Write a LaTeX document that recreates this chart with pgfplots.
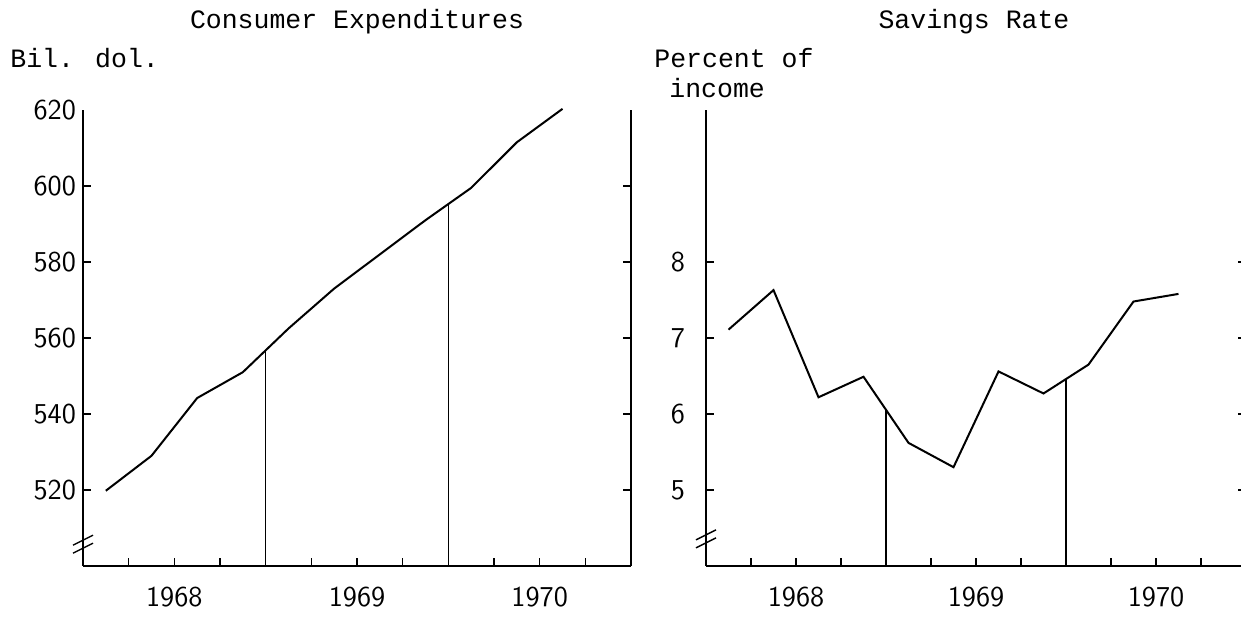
\documentclass[border=0pt]{standalone}
\usepackage{fontspec}
\usepackage{pgfplots}
\pgfplotsset{compat=1.18}
\newfontfamily\typew{Liberation Mono}
\begin{document}
\begin{tikzpicture}
\pgfplotsset{
  panel/.style={
    scale only axis,
    clip=false,
    axis x line*=bottom,
    axis y line*=box,
    xmin=1968, xmax=1971,
    xtick={1968.25,1968.5,1968.75,1969,1969.25,1969.5,1969.75,1970,1970.25,1970.5,1970.75},
    xticklabels={},
    xtick pos=bottom,
    ytick pos=both,
    yticklabel pos=left,
    extra x ticks={1968.5,1969.5,1970.5},
    extra x tick labels={1968,1969,1970},
    extra x tick style={major tick length=0pt, xticklabel style={yshift=-7pt}},
    tick label style={font=\fontsize{14.4}{16}\selectfont\sffamily},
    /pgf/number format/assume math mode=true,
    axis line style={line width=0.9pt, black},
    major tick style={line width=0.8pt, black},
    major tick length=4pt,
    height=228pt,
  }
}
% ---------------- Left panel ----------------
\begin{axis}[panel,
  at={(41.5pt,26.5pt)}, anchor=south west,
  width=274pt,
  ymin=500, ymax=620,
  ytick={520,540,560,580,600},
  extra y ticks={620},
  extra y tick style={major tick length=0pt},
]
\addplot[black, line width=1pt] coordinates {
  (1968.125,519.8) (1968.375,529.0) (1968.625,544.2) (1968.875,551.0)
  (1969.125,562.5) (1969.375,573.0) (1969.625,582.0) (1969.875,591.0)
  (1970.125,599.5) (1970.375,611.5) (1970.625,620.3)
};
\addplot[black, line width=0.7pt] coordinates {(1969,500) (1969,556.75)};
\addplot[black, line width=0.7pt] coordinates {(1970,500) (1970,595.25)};
\draw[line width=0.7pt] ([xshift=-5pt,yshift=-5pt]axis cs:1968,506) -- ([xshift=5pt,yshift=0pt]axis cs:1968,506);
\draw[line width=0.7pt] ([xshift=-5pt,yshift=-1pt]axis cs:1968,506) -- ([xshift=5pt,yshift=4pt]axis cs:1968,506);
\end{axis}
% ---------------- Right panel ----------------
\begin{axis}[panel,
  at={(353pt,26.5pt)}, anchor=south west,
  width=270pt,
  ymin=4, ymax=10,
  ytick={5,6,7,8},
  yticklabel style={xshift=-7pt},
]
\addplot[black, line width=1pt] coordinates {
  (1968.125,7.11) (1968.375,7.63) (1968.625,6.22) (1968.875,6.49)
  (1969.125,5.62) (1969.375,5.30) (1969.625,6.56) (1969.875,6.27)
  (1970.125,6.65) (1970.375,7.48) (1970.625,7.58)
};
\addplot[black, line width=0.7pt] coordinates {(1969,4) (1969,6.07)};
\addplot[black, line width=0.7pt] coordinates {(1970,4) (1970,6.45)};
\draw[line width=0.7pt] ([xshift=-5pt,yshift=-5pt]axis cs:1968,4.37) -- ([xshift=5pt,yshift=0pt]axis cs:1968,4.37);
\draw[line width=0.7pt] ([xshift=-5pt,yshift=-1pt]axis cs:1968,4.37) -- ([xshift=5pt,yshift=4pt]axis cs:1968,4.37);
\end{axis}
% ---------------- Texts ----------------
\begin{scope}[every node/.style={font=\typew\fontsize{13.25}{15}\selectfont, inner sep=0pt}]
\node at (178.5pt,298.5pt) {Consumer Expenditures};
\node[anchor=west] at (5pt,280.5pt) {Bil. dol.};
\node at (487pt,298.5pt) {Savings Rate};
\node[anchor=west] at (327pt,280.5pt) {Percent of};
\node[anchor=west] at (334.5pt,265.5pt) {income};
\end{scope}
\pgfresetboundingbox
\path[use as bounding box] (0pt,0pt) rectangle (620.5pt,309.5pt);
\end{tikzpicture}
\end{document}
